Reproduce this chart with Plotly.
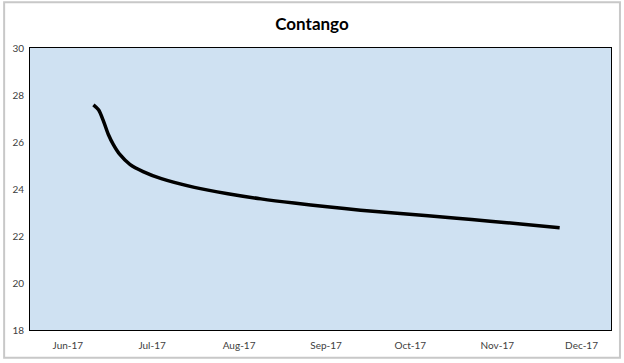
import plotly.graph_objects as go

dates = ["2017-06-10 02:00", "2017-06-11 22:00", "2017-06-13 17:00", "2017-06-15 10:00",
         "2017-06-17 05:00", "2017-06-19 12:00", "2017-06-23 02:00", "2017-06-27 19:00",
         "2017-07-04 07:00", "2017-07-16 02:00", "2017-07-28 00:00", "2017-08-08 19:00",
         "2017-08-20 14:00", "2017-09-01 10:00", "2017-09-13 07:00", "2017-09-27 10:00",
         "2017-10-17 12:00", "2017-10-29 10:00", "2017-11-10 05:00", "2017-11-23 05:00"]
values = [27.58, 27.37, 26.88, 26.32, 25.89, 25.47, 25.05, 24.74, 24.44, 24.07,
          23.80, 23.58, 23.40, 23.24, 23.10, 22.96, 22.76, 22.63, 22.50, 22.35]

month_ticks = ["2017-06-01", "2017-07-01", "2017-08-01", "2017-09-01",
               "2017-10-01", "2017-11-01", "2017-12-01"]
month_labels = ["Jun-17", "Jul-17", "Aug-17", "Sep-17", "Oct-17", "Nov-17", "Dec-17"]
y_ticks = [18, 20, 22, 24, 26, 28, 30]

fig = go.Figure()
fig.add_trace(go.Scatter(x=dates, y=values, mode="lines",
                         line=dict(color="black", width=3.5, shape="spline", smoothing=0.8),
                         showlegend=False, hoverinfo="skip"))

W, H = 624, 363
ml, mr, mt, mb = 28, 12, 48, 31
pw, ph = W - ml - mr, H - mt - mb
font_family = "Lato, Open Sans, sans-serif"

fig.update_layout(
    width=W, height=H,
    margin=dict(l=ml, r=mr, t=mt, b=mb),
    paper_bgcolor="white",
    plot_bgcolor="#CFE1F2",
    title=dict(text="<b>Contango</b>", x=0.5, xanchor="center", y=1 - 24 / H, yanchor="middle",
               font=dict(family=font_family, size=17, color="black")),
    xaxis=dict(type="date", range=["2017-05-18 12:00", "2017-12-11 12:00"],
               tickvals=month_ticks, ticktext=month_labels,
               showgrid=False, zeroline=False,
               showline=True, linecolor="black", linewidth=1, mirror=True,
               ticks="outside", ticklen=6, tickcolor="rgba(0,0,0,0)",
               tickfont=dict(family=font_family, size=10, color="#404040")),
    yaxis=dict(range=[18, 30], tickvals=y_ticks,
               showgrid=False, zeroline=False,
               showline=True, linecolor="black", linewidth=1, mirror=True,
               ticks="outside", ticklen=3, tickcolor="rgba(0,0,0,0)",
               tickfont=dict(family=font_family, size=10, color="#404040")),
    shapes=[dict(type="rect", xref="paper", yref="paper",
                 x0=(2 - ml) / pw, x1=(621 - ml) / pw,
                 y0=(H - mb - 360) / ph, y1=(H - mb - 2) / ph,
                 line=dict(color="#C8C8C8", width=2), fillcolor="rgba(0,0,0,0)", layer="below")],
)

fig.write_html("out.html", config={"displayModeBar": False},
               post_script="document.body.style.margin='0';")
